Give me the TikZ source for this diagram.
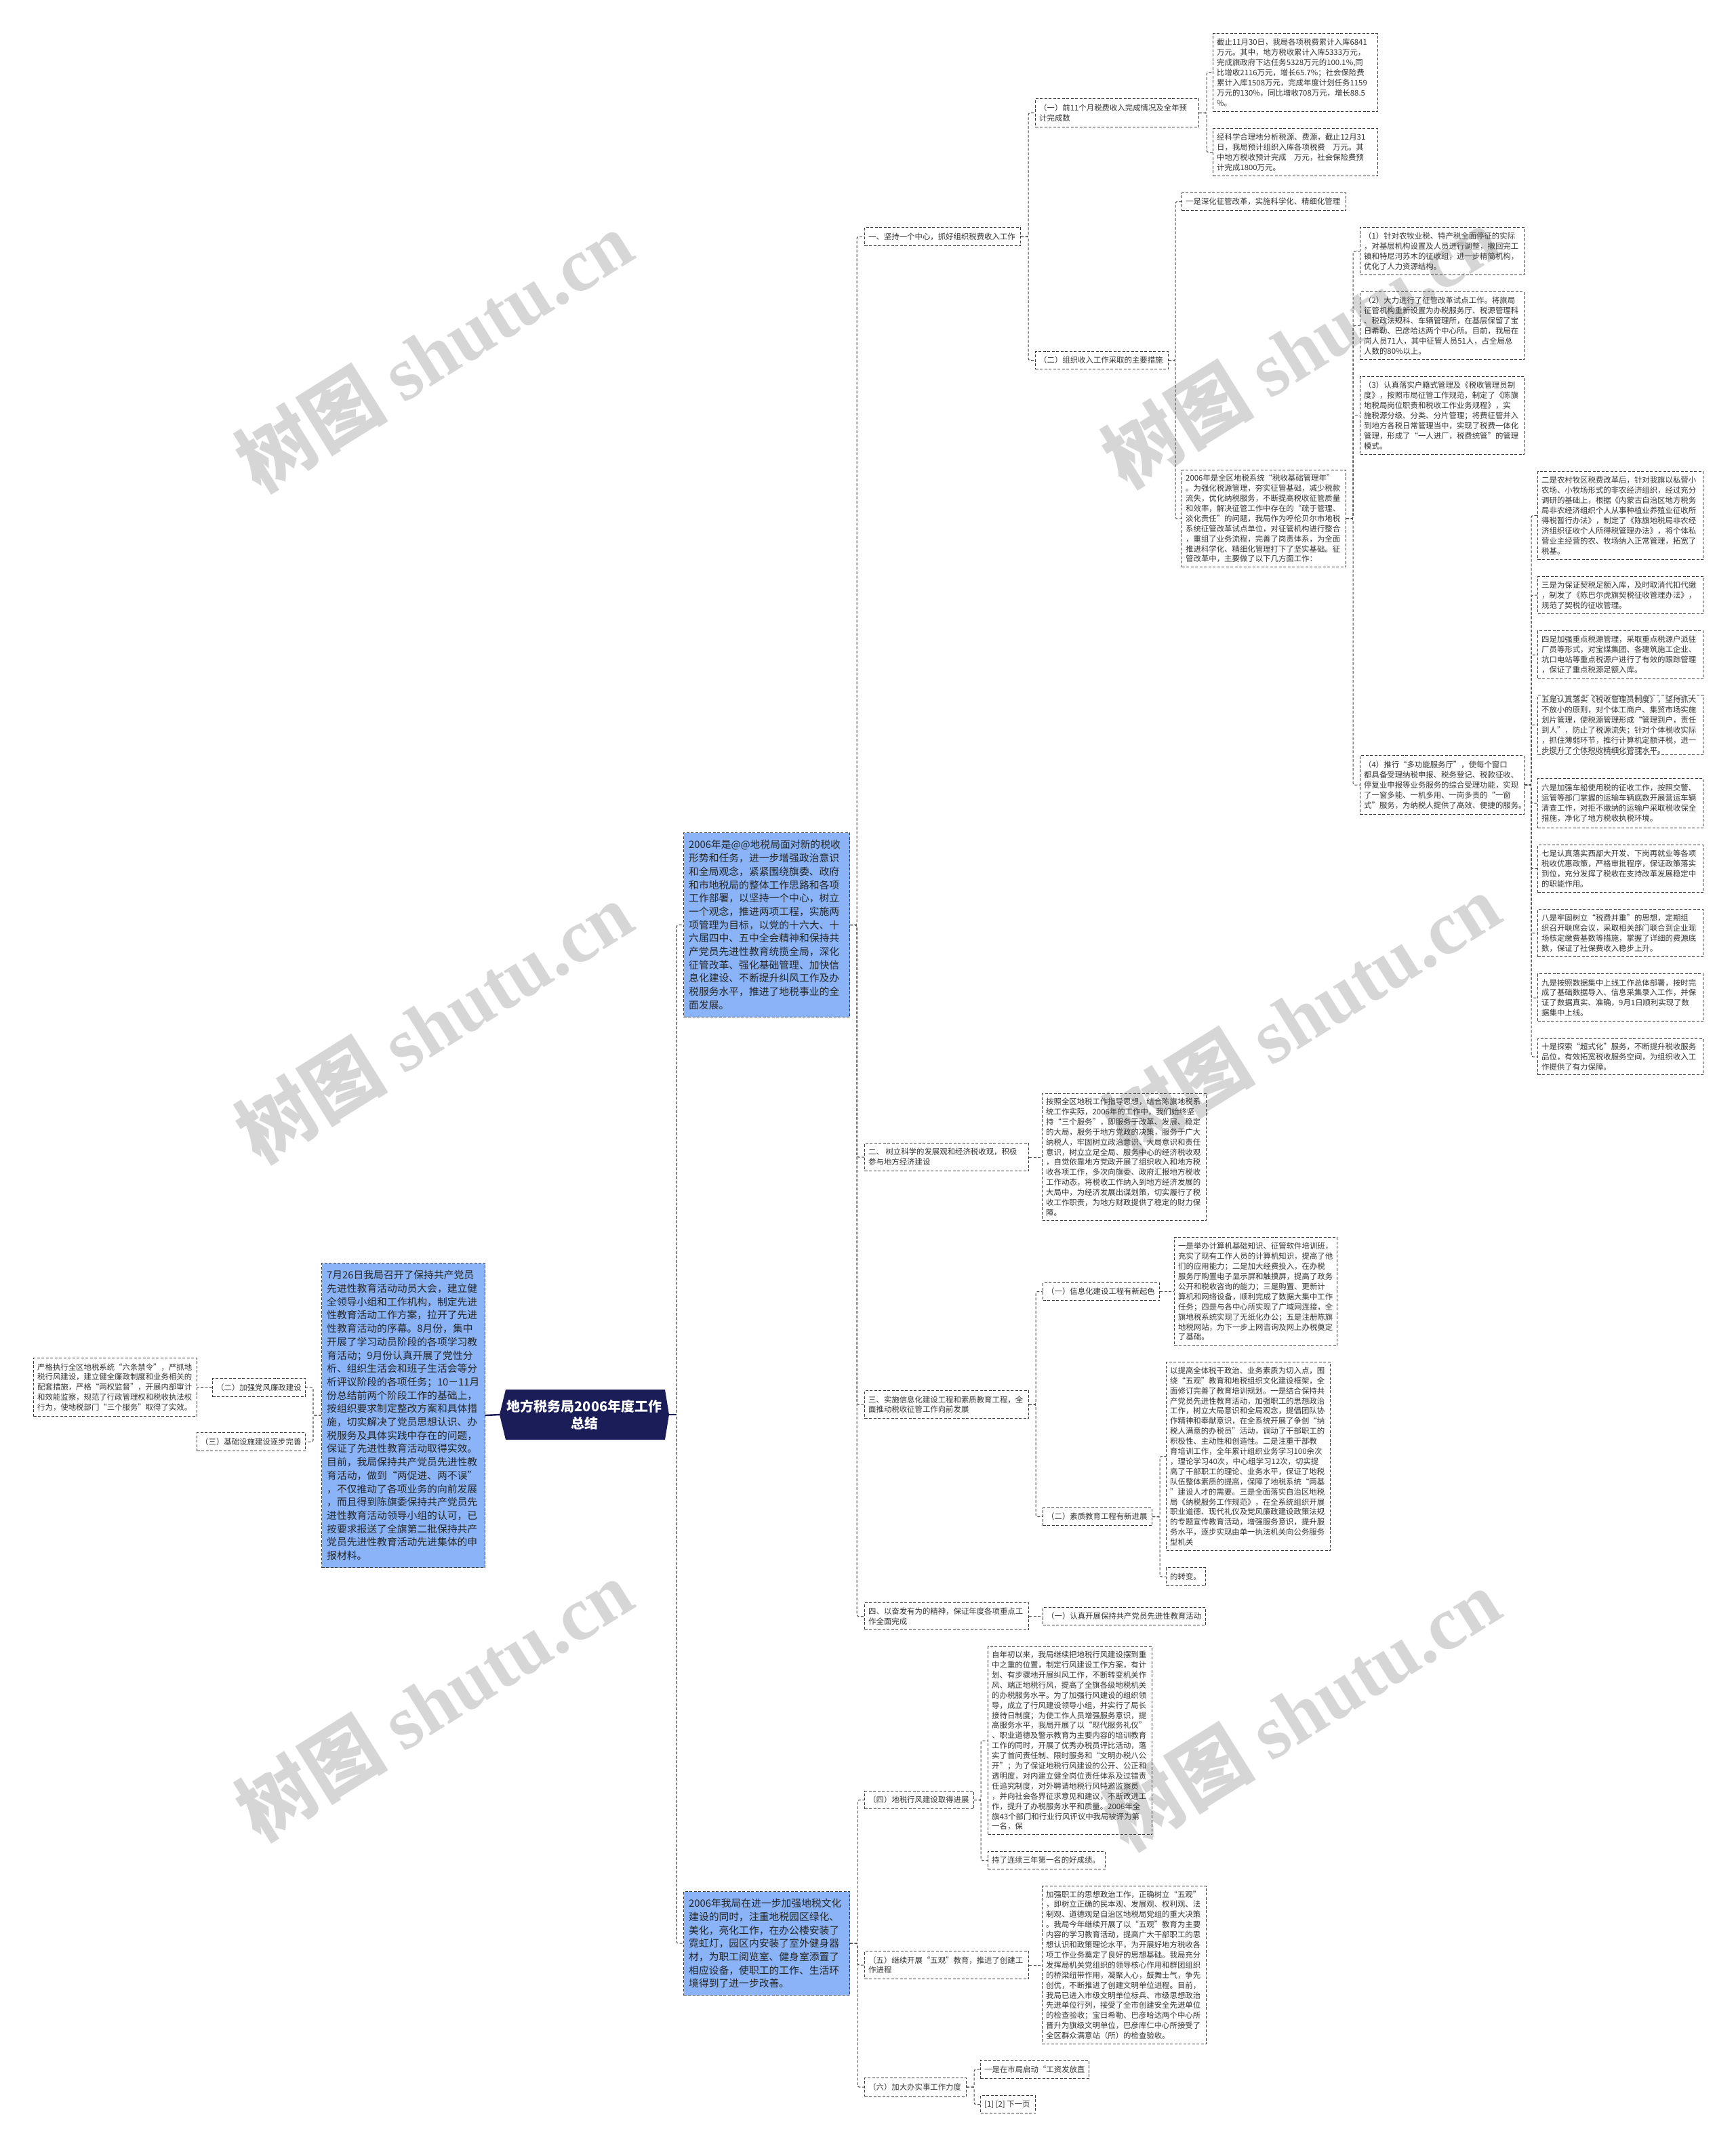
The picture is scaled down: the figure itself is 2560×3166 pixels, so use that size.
\documentclass[tikz,border=0pt]{standalone}
\usepackage{fontspec}
\setmainfont{Noto Sans CJK SC}
\newfontfamily\wmlat{Liberation Serif}
\definecolor{boxc}{HTML}{3A3A3A}
\definecolor{connc}{HTML}{4A4A4A}
\definecolor{bluec}{HTML}{8AB4F7}
\definecolor{navy}{HTML}{1B1D58}
\definecolor{txtc}{HTML}{333333}
\definecolor{wmc}{HTML}{D6D6D6}
\tikzset{
  bx/.style={draw=boxc, line width=1.1pt, dash pattern=on 4pt off 2.5pt, inner sep=0pt, anchor=north west},
  bbx/.style={bx, fill=bluec},
  sm/.style={font=\fontsize{11.4}{14.9}\selectfont, text=txtc, align=left, anchor=west, inner sep=0pt, xshift=6pt},
  bg/.style={font=\fontsize{14.8}{19.7}\selectfont, text=black!85, align=left, anchor=west, inner sep=0pt, xshift=8pt},
  conn/.style={draw=connc, line width=1.1pt, dash pattern=on 4pt off 2.5pt, rounded corners=2.5pt},
  rootline/.style={draw=navy, line width=2.4pt},
  wm/.style={text=wmc, rotate=32, font=\fontsize{112}{116}\selectfont\bfseries, inner sep=0pt},
}
\newcommand\tb[8]{%
  \node[#6, minimum width={#4-#2}, minimum height={#5-#3}] (#1) at (#2,#3) {};
  \node[#7] at (#1.west) {#8};
}
\begin{document}
\begin{tikzpicture}[x=1pt,y=-1pt]
\fill[white] (0,0) rectangle (2560,3166);
\useasboundingbox (0,0) rectangle (2560,3166);
% watermarks
\node[wm] (wm1) at (640,518) {树图 {\wmlat shutu.cn}};
\node[wm] (wm2) at (1918,512) {树图 {\wmlat shutu.cn}};
\node[wm] (wm3) at (640,1508) {树图 {\wmlat shutu.cn}};
\node[wm] (wm4) at (1920,1496) {树图 {\wmlat shutu.cn}};
\node[wm] (wm5) at (640,2508) {树图 {\wmlat shutu.cn}};
\node[wm] (wm6) at (1920,2522) {树图 {\wmlat shutu.cn}};

% root
\fill[navy] (746,2050) -- (981,2050) -- (987,2087) -- (981,2124) -- (746,2124) -- (737,2087) -- cycle;
\node[minimum width=250pt, minimum height=74pt, inner sep=0pt, text=white, align=center,
  font=\bfseries\fontsize{20}{25}\selectfont] (root) at (862,2087) {地方税务局2006年度工作\\总结};

% left side
\tb{LB}{474}{1863}{715}{2312}{bbx}{bg}{7月26日我局召开了保持共产党员\\先进性教育活动动员大会，建立健\\全领导小组和工作机构，制定先进\\性教育活动工作方案，拉开了先进\\性教育活动的序幕。8月份，集中\\开展了学习动员阶段的各项学习教\\育活动；9月份认真开展了党性分\\析、组织生活会和班子生活会等分\\析评议阶段的各项任务；10－11月\\份总结前两个阶段工作的基础上，\\按组织要求制定整改方案和具体措\\施，切实解决了党员思想认识、办\\税服务及具体实践中存在的问题，\\保证了先进性教育活动取得实效。\\目前，我局保持共产党员先进性教\\育活动，做到“两促进、两不误”\\，不仅推动了各项业务的向前发展\\，而且得到陈旗委保持共产党员先\\进性教育活动领导小组的认可，已\\按要求报送了全旗第二批保持共产\\党员先进性教育活动先进集体的申\\报材料。}
\tb{L2}{313}{2033}{450}{2060}{bx}{sm}{（二）加强党风廉政建设}
\tb{L3}{290}{2113}{450}{2140}{bx}{sm}{（三）基础设施建设逐步完善}
\tb{L2c}{49}{2003}{290}{2089}{bx}{sm}{严格执行全区地税系统“六条禁令”，严抓地\\税行风建设，建立健全廉政制度和业务相关的\\配套措施，严格“两权监督”，开展内部审计\\和效能监察，规范了行政管理权和税收执法权\\行为，使地税部门“三个服务”取得了实效。}

% right blue boxes
\tb{B1}{1008}{1228}{1253}{1500}{bbx}{bg}{2006年是@@地税局面对新的税收\\形势和任务，进一步增强政治意识\\和全局观念，紧紧围绕旗委、政府\\和市地税局的整体工作思路和各项\\工作部署，以坚持一个中心，树立\\一个观念，推进两项工程，实施两\\项管理为目标，以党的十六大、十\\六届四中、五中全会精神和保持共\\产党员先进性教育统揽全局，深化\\征管改革、强化基础管理、加快信\\息化建设、不断提升纠风工作及办\\税服务水平，推进了地税事业的全\\面发展。}
\tb{B2}{1008}{2790}{1253}{2943}{bbx}{bg}{2006年我局在进一步加强地税文化\\建设的同时，注重地税园区绿化、\\美化，亮化工作，在办公楼安装了\\霓虹灯，园区内安装了室外健身器\\材，为职工阅览室、健身室添置了\\相应设备，使职工的工作、生活环\\境得到了进一步改善。}

% branch 一
\tb{N1}{1275}{335}{1505}{362}{bx}{sm}{一、坚持一个中心，抓好组织税费收入工作}
\tb{N1a}{1527}{145}{1768}{187}{bx}{sm}{（一）前11个月税费收入完成情况及全年预\\计完成数}
\tb{A1}{1789}{49}{2032}{164}{bx}{sm}{截止11月30日，我局各项税费累计入库6841\\万元。其中，地方税收累计入库5333万元，\\完成旗政府下达任务5328万元的100.1\%,同\\比增收2116万元，增长65.7\%；社会保险费\\累计入库1508万元，完成年度计划任务1159\\万元的130\%，同比增收708万元，增长88.5\\\%。}
\tb{A2}{1789}{189}{2032}{259}{bx}{sm}{经科学合理地分析税源、费源，截止12月31\\日，我局预计组织入库各项税费\quad 万元。其\\中地方税收预计完成\quad 万元，社会保险费预\\计完成1800万元。}
\tb{N1b}{1527}{518}{1723}{544}{bx}{sm}{（二）组织收入工作采取的主要措施}
\tb{C1}{1743}{284}{1985}{310}{bx}{sm}{一是深化征管改革，实施科学化、精细化管理}
\tb{C2}{1743}{693}{1985}{836}{bx}{sm}{2006年是全区地税系统“税收基础管理年”\\。为强化税源管理，夯实征管基础，减少税款\\流失，优化纳税服务，不断提高税收征管质量\\和效率，解决征管工作中存在的“疏于管理、\\淡化责任”的问题，我局作为呼伦贝尔市地税\\系统征管改革试点单位，对征管机构进行整合\\，重组了业务流程，完善了岗责体系，为全面\\推进科学化、精细化管理打下了坚实基础。征\\管改革中，主要做了以下几方面工作：}
\tb{D1}{2006}{335}{2248}{405}{bx}{sm}{（1）针对农牧业税、特产税全面停征的实际\\，对基层机构设置及人员进行调整，撤回完工\\镇和特尼河苏木的征收组，进一步精简机构，\\优化了人力资源结构。}
\tb{D2}{2006}{430}{2248}{530}{bx}{sm}{（2）大力进行了征管改革试点工作。将旗局\\征管机构重新设置为办税服务厅、税源管理科\\、税政法规科、车辆管理所，在基层保留了宝\\日希勒、巴彦哈达两个中心所。目前，我局在\\岗人员71人，其中征管人员51人，占全局总\\人数的80\%以上。}
\tb{D3}{2006}{555}{2248}{670}{bx}{sm}{（3）认真落实户籍式管理及《税收管理员制\\度》，按照市局征管工作规范，制定了《陈旗\\地税局岗位职责和税收工作业务规程》，实\\施税源分级、分类、分片管理；将费征管并入\\到地方各税日常管理当中，实现了税费一体化\\管理，形成了“一人进厂，税费统管”的管理\\模式。}
\tb{D4}{2006}{1114}{2248}{1201}{bx}{sm}{（4）推行“多功能服务厅”，使每个窗口\\都具备受理纳税申报、税务登记、税款征收、\\停复业申报等业务服务的综合受理功能，实现\\了一窗多能、一机多用、一岗多责的“一窗\\式”服务，为纳税人提供了高效、便捷的服务。}
\tb{E2}{2268}{695}{2512}{825}{bx}{sm}{二是农村牧区税费改革后，针对我旗以私营小\\农场、小牧场形式的非农经济组织，经过充分\\调研的基础上，根据《内蒙古自治区地方税务\\局非农经济组织个人从事种植业养殖业征收所\\得税暂行办法》，制定了《陈旗地税局非农经\\济组织征收个人所得税管理办法》，将个体私\\营业主经营的农、牧场纳入正常管理，拓宽了\\税基。}
\tb{E3}{2268}{850}{2512}{905}{bx}{sm}{三是为保证契税足额入库，及时取消代扣代缴\\，制发了《陈巴尔虎旗契税征收管理办法》，\\规范了契税的征收管理。}
\tb{E4}{2268}{930}{2512}{1001}{bx}{sm}{四是加强重点税源管理，采取重点税源户派驻\\厂员等形式，对宝煤集团、各建筑施工企业、\\坑口电站等重点税源户进行了有效的跟踪管理\\，保证了重点税源足额入库。}
\tb{E5}{2268}{1025}{2512}{1113}{bx}{sm}{五是认真落实《税收管理员制度》，坚持抓大\\不放小的原则，对个体工商户、集贸市场实施\\划片管理，使税源管理形成“管理到户，责任\\到人”，防止了税源流失；针对个体税收实际\\，抓住薄弱环节，推行计算机定额评税，进一\\步提升了个体税收精细化管理水平。}
\tb{E6}{2268}{1148}{2512}{1221}{bx}{sm}{六是加强车船使用税的征收工作，按照交警、\\运管等部门掌握的运输车辆底数开展营运车辆\\清查工作，对拒不缴纳的运输户采取税收保全\\措施，净化了地方税收执税环境。}
\tb{E7}{2268}{1246}{2512}{1316}{bx}{sm}{七是认真落实西部大开发、下岗再就业等各项\\税收优惠政策，严格审批程序，保证政策落实\\到位，充分发挥了税收在支持改革发展稳定中\\的职能作用。}
\tb{E8}{2268}{1341}{2512}{1411}{bx}{sm}{八是牢固树立“税费并重”的思想，定期组\\织召开联席会议，采取相关部门联合到企业现\\场核定缴费基数等措施，掌握了详细的费源底\\数，保证了社保费收入稳步上升。}
\tb{E9}{2268}{1436}{2512}{1507}{bx}{sm}{九是按照数据集中上线工作总体部署，按时完\\成了基础数据导入、信息采集录入工作，并保\\证了数据真实、准确，9月1日顺利实现了数\\据集中上线。}
\tb{E10}{2268}{1532}{2512}{1585}{bx}{sm}{十是探索“超式化”服务，不断提升税收服务\\品位，有效拓宽税收服务空间，为组织收入工\\作提供了有力保障。}

% branch 二
\tb{N2}{1275}{1686}{1517}{1727}{bx}{sm}{二、\ 树立科学的发展观和经济税收观，积极\\参与地方经济建设}
\tb{N2c}{1537}{1613}{1779}{1800}{bx}{sm}{按照全区地税工作指导思想，结合陈旗地税系\\统工作实际，2006年的工作中，我们始终坚\\持“三个服务”，即服务于改革、发展、稳定\\的大局，服务于地方党政的决策，服务于广大\\纳税人，牢固树立政治意识、大局意识和责任\\意识，树立立足全局、服务中心的经济税收观\\，自觉依靠地方党政开展了组织收入和地方税\\收各项工作，多次向旗委、政府汇报地方税收\\工作动态，将税收工作纳入到地方经济发展的\\大局中，为经济发展出谋划策，切实履行了税\\收工作职责，为地方财政提供了稳定的财力保\\障。}

% branch 三
\tb{N3}{1275}{2051}{1517}{2092}{bx}{sm}{三、实施信息化建设工程和素质教育工程，全\\面推动税收征管工作向前发展}
\tb{N3a}{1538}{1892}{1710}{1918}{bx}{sm}{（一）信息化建设工程有新起色}
\tb{N3ac}{1732}{1825}{1972}{1985}{bx}{sm}{一是举办计算机基础知识、征管软件培训班，\\充实了现有工作人员的计算机知识，提高了他\\们的应用能力；二是加大经费投入，在办税\\服务厅购置电子显示屏和触摸屏，提高了政务\\公开和税收咨询的能力；三是购置、更新计\\算机和网络设备，顺利完成了数据大集中工作\\任务；四是与各中心所实现了广域网连接，全\\旗地税系统实现了无纸化办公；五是注册陈旗\\地税网站，为下一步上网咨询及网上办税奠定\\了基础。}
\tb{N3b}{1538}{2224}{1699}{2250}{bx}{sm}{（二）素质教育工程有新进展}
\tb{N3bc1}{1720}{2009}{1962}{2287}{bx}{sm}{以提高全体税干政治、业务素质为切入点，围\\绕“五观”教育和地税组织文化建设框架，全\\面修订完善了教育培训规划。一是结合保持共\\产党员先进性教育活动，加强职工的思想政治\\工作，树立大局意识和全局观念，提倡团队协\\作精神和奉献意识，在全系统开展了争创“纳\\税人满意的办税员”活动，调动了干部职工的\\积极性、主动性和创造性。二是注重干部教\\育培训工作，全年累计组织业务学习100余次\\，理论学习40次，中心组学习12次，切实提\\高了干部职工的理论、业务水平，保证了地税\\队伍整体素质的提高，保障了地税系统“两基\\”建设人才的需要。三是全面落实自治区地税\\局《纳税服务工作规范》，在全系统组织开展\\职业道德、现代礼仪及党风廉政建设政策法规\\的专题宣传教育活动，增强服务意识，提升服\\务水平，逐步实现由单一执法机关向公务服务\\型机关}
\tb{N3bc2}{1720}{2312}{1778}{2339}{bx}{sm}{的转变。}

% branch 四
\tb{N4}{1275}{2364}{1517}{2404}{bx}{sm}{四、以奋发有为的精神，保证年度各项重点工\\作全面完成}
\tb{N4c}{1538}{2371}{1778}{2397}{bx}{sm}{（一）认真开展保持共产党员先进性教育活动}

% blue 2 children
\tb{M4}{1275}{2642}{1436}{2668}{bx}{sm}{（四）地税行风建设取得进展}
\tb{M4c1}{1457}{2429}{1699}{2706}{bx}{sm}{自年初以来，我局继续把地税行风建设摆到重\\中之重的位置，制定行风建设工作方案，有计\\划、有步骤地开展纠风工作，不断转变机关作\\风、端正地税行风，提高了全旗各级地税机关\\的办税服务水平。为了加强行风建设的组织领\\导，成立了行风建设领导小组，并实行了局长\\接待日制度；为使工作人员增强服务意识，提\\高服务水平，我局开展了以“现代服务礼仪”\\、职业道德及警示教育为主要内容的培训教育\\工作的同时，开展了优秀办税员评比活动，落\\实了首问责任制、限时服务和“文明办税八公\\开”；为了保证地税行风建设的公开、公正和\\透明度，对内建立健全岗位责任体系及过错责\\任追究制度，对外聘请地税行风特邀监察员\\，并向社会各界征求意见和建议，不断改进工\\作，提升了办税服务水平和质量。2006年全\\旗43个部门和行业行风评议中我局被评为第\\一名，保}
\tb{M4c2}{1457}{2731}{1630}{2757}{bx}{sm}{持了连续三年第一名的好成绩。}
\tb{M5}{1275}{2878}{1517}{2919}{bx}{sm}{（五）继续开展“五观”教育，推进了创建工\\作进程}
\tb{M5c}{1537}{2782}{1779}{3015}{bx}{sm}{加强职工的思想政治工作，正确树立“五观”\\，即树立正确的民本观、发展观、权利观、法\\制观、道德观是自治区地税局党组的重大决策\\。我局今年继续开展了以“五观”教育为主要\\内容的学习教育活动，提高广大干部职工的思\\想认识和政策理论水平，为开展好地方税收各\\项工作业务奠定了良好的思想基础。我局充分\\发挥局机关党组织的领导核心作用和群团组织\\的桥梁纽带作用，凝聚人心，鼓舞士气，争先\\创优，不断推进了创建文明单位进程。目前，\\我局已进入市级文明单位标兵、市级思想政治\\先进单位行列，接受了全市创建安全先进单位\\的检查验收；宝日希勒、巴彦哈达两个中心所\\晋升为旗级文明单位，巴彦库仁中心所接受了\\全区群众满意站（所）的检查验收。}
\tb{M6}{1275}{3065}{1425}{3092}{bx}{sm}{（六）加大办实事工作力度}
\tb{M6c1}{1446}{3039}{1606}{3066}{bx}{sm}{一是在市局启动“工资发放直}
\tb{M6c2}{1446}{3091}{1527}{3117}{bx}{sm}{[1] [2] 下一页}

% connectors
\draw[rootline] (root.west) -- (LB.east);
\draw[conn] (root.east) -- ++(11,0) |- (B1.west);
\draw[conn] (root.east) -- ++(11,0) |- (B2.west);
\draw[rootline] (root.east) -- ++(11,0);
\draw[conn] (LB.west) -- ++(-12,0) |- (L2.east);
\draw[conn] (LB.west) -- ++(-12,0) |- (L3.east);
\draw[conn] (L2.west) -- (L2c.east);
\foreach \c in {N1,N2,N3,N4} \draw[conn] (B1.east) -- ++(10,0) |- (\c.west);
\foreach \c in {N1a,N1b} \draw[conn] (N1.east) -- ++(11,0) |- (\c.west);
\foreach \c in {A1,A2} \draw[conn] (N1a.east) -- ++(11,0) |- (\c.west);
\foreach \c in {C1,C2} \draw[conn] (N1b.east) -- ++(10,0) |- (\c.west);
\foreach \c in {D1,D2,D3,D4} \draw[conn] (C2.east) -- ++(10,0) |- (\c.west);
\foreach \c in {E2,E3,E4,E5,E6,E7,E8,E9,E10} \draw[conn] (D4.east) -- ++(10,0) |- (\c.west);
\draw[conn] (N2.east) -- (N2c.west);
\foreach \c in {N3a,N3b} \draw[conn] (N3.east) -- ++(10,0) |- (\c.west);
\draw[conn] (N3a.east) -- (N3ac.west);
\foreach \c in {N3bc1,N3bc2} \draw[conn] (N3b.east) -- ++(11,0) |- (\c.west);
\draw[conn] (N4.east) -- (N4c.west);
\foreach \c in {M4,M5,M6} \draw[conn] (B2.east) -- ++(11,0) |- (\c.west);
\foreach \c in {M4c1,M4c2} \draw[conn] (M4.east) -- ++(10,0) |- (\c.west);
\draw[conn] (M5.east) -- (M5c.west);
\foreach \c in {M6c1,M6c2} \draw[conn] (M6.east) -- ++(11,0) |- (\c.west);
\end{tikzpicture}
\end{document}
